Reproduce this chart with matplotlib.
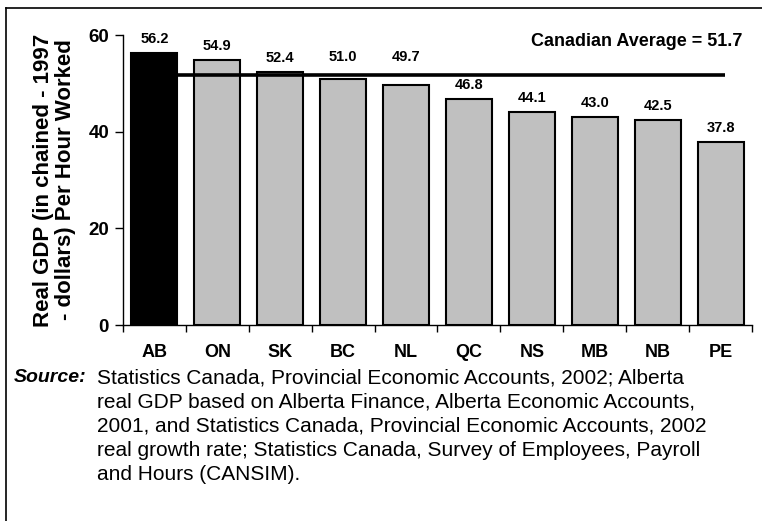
import numpy as np
import matplotlib
matplotlib.use('Agg')
import matplotlib.pyplot as plt
from matplotlib.lines import Line2D

provinces = ['AB', 'ON', 'SK', 'BC', 'NL', 'QC', 'NS', 'MB', 'NB', 'PE']
gdp_per_hour = [56.2, 54.9, 52.4, 51.0, 49.7, 46.8, 44.1, 43.0, 42.5, 37.8]
canada_avg = 51.7
y_ticks = [0, 20, 40, 60]

source_lines = [
    "Statistics Canada, Provincial Economic Accounts, 2002; Alberta",
    "real GDP based on Alberta Finance, Alberta Economic Accounts,",
    "2001, and Statistics Canada, Provincial Economic Accounts, 2002",
    "real growth rate; Statistics Canada, Survey of Employees, Payroll",
    "and Hours (CANSIM).",
]

plt.rcParams['font.family'] = ['Liberation Sans', 'DejaVu Sans']

W, H = 762, 521
fig = plt.figure(figsize=(W / 100, H / 100), dpi=100)

def fx(px):
    return px / W

def fy(py):
    return 1 - py / H

# outer frame: only top and left edges show
fig.add_artist(Line2D([fx(6), fx(6)], [fy(8), 0], color='black', lw=1.2))
fig.add_artist(Line2D([fx(6), 1], [fy(8), fy(8)], color='black', lw=1.2))

ax = fig.add_axes([fx(123), fy(325), fx(752) - fx(123), fy(35) - fy(325)])

x = np.arange(len(provinces))
colors = ['black'] + ['#c0c0c0'] * (len(provinces) - 1)
ax.bar(x, gdp_per_hour, width=0.73, color=colors, edgecolor='black', linewidth=1.5, zorder=2)

for xi, v in zip(x, gdp_per_hour):
    # labels that would sit on the average line are lifted above it
    if v < canada_avg and v > canada_avg - 3:
        anchor, off = canada_avg, 8
    else:
        anchor, off = v, 5
    ax.annotate(f"{v:.1f}", (xi, anchor), xytext=(0, off), textcoords='offset points',
                ha='center', va='bottom', fontsize=10.5, fontweight='bold')

ax.plot([0.365, 9.07], [canada_avg, canada_avg], color='black', lw=2.6, zorder=3,
        solid_capstyle='butt')
fig.text(fx(742), fy(42), f"Canadian Average = {canada_avg}", ha='right', va='center',
         fontsize=13, fontweight='bold')

ax.set_xlim(-0.5, len(provinces) - 0.5)
ax.set_ylim(0, 60)
ax.set_yticks(y_ticks)
ax.set_yticklabels([str(t) for t in y_ticks], fontsize=13.5, fontweight='bold')
ax.set_xticks(x)
ax.set_xticklabels(provinces)
for lbl in ax.get_xticklabels():
    lbl.set_family(['Liberation Sans Narrow', 'Liberation Sans'])
    lbl.set_fontweight('bold')
    lbl.set_fontsize(13)
ax.set_xticks(np.arange(-0.5, len(provinces)), minor=True)
ax.tick_params(axis='x', which='major', length=0, pad=14)
ax.tick_params(axis='x', which='minor', length=5, width=1, direction='out')
ax.tick_params(axis='y', length=6, width=1, direction='out', pad=4)

for side in ['top', 'right']:
    ax.spines[side].set_visible(False)
for side in ['left', 'bottom']:
    ax.spines[side].set_linewidth(1)

ax.set_ylabel("Real GDP (in chained - 1997\n- dollars) Per Hour Worked",
              fontsize=16, fontweight='bold', labelpad=9, linespacing=1.05)

# source note below the chart
fig.text(fx(14), fy(378), "Source:", ha='left', va='center', fontsize=14,
         fontweight='bold', style='italic')
for i, line in enumerate(source_lines):
    fig.text(fx(97), fy(378 + 24 * i), line, ha='left', va='center', fontsize=15)

fig.savefig('out.png', dpi=100)
